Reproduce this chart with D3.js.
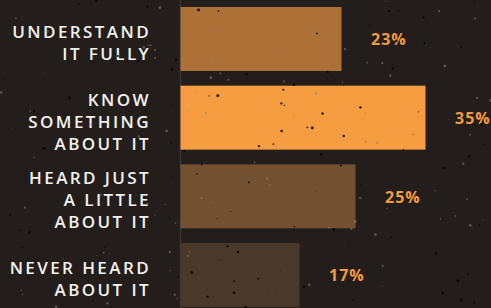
<!DOCTYPE html>
<html>
<head>
<meta charset="utf-8">
<script src="https://cdn.jsdelivr.net/npm/d3@7"></script>
<style>
  html, body { margin: 0; padding: 0; background: #231e1c; }
  svg { display: block; }
</style>
</head>
<body>
<svg class="js-render-chart"></svg>
<script>
"use strict";

//data

const categories = ["understand", "know", "heard", "never"];
const labels = [
  ["UNDERSTAND", "IT FULLY"],
  ["KNOW", "SOMETHING", "ABOUT IT"],
  ["HEARD JUST", "A LITTLE", "ABOUT IT"],
  ["NEVER HEARD", "ABOUT IT"]
];
const values = [23, 35, 25, 17];
const colors = ["#ad7138", "#f59d40", "#73502f", "#4a392b"];

//params

const w = 491;
const h = 308;
const x0 = 180;

const svg = d3.select(".js-render-chart")
  .attr("width", w)
  .attr("height", h);

svg.append("rect")
  .attr("width", w)
  .attr("height", h)
  .attr("fill", "#231e1c");

//speckle texture (decoration only)

const rnd = d3.randomLcg(0.42);
const specks = d3.range(220).map(() => ({
  x: rnd() * w,
  y: rnd() * h,
  r: 0.4 + rnd() * 1.1,
  dark: rnd() < 0.55
}));

//scales

const x = d3.scaleLinear()
  .domain([0, 35])
  .range([x0, 425]);

const y = d3.scaleBand()
  .domain(categories)
  .range([7, 307])
  .paddingInner(0.187)
  .paddingOuter(0);

//axis line

svg.append("line")
  .attr("x1", x0 + 0.5)
  .attr("x2", x0 + 0.5)
  .attr("y1", 0)
  .attr("y2", h)
  .attr("stroke", "#3b3532")
  .attr("stroke-width", 1.5);

//bars

svg.append("g")
  .selectAll("rect")
  .data(values)
  .enter()
  .append("rect")
  .attr("x", x(0) + 0.5)
  .attr("y", (d, i) => y(categories[i]))
  .attr("width", (d) => x(d) - x(0))
  .attr("height", y.bandwidth())
  .attr("fill", (d, i) => colors[i]);

//value labels

svg.append("g")
  .selectAll("text")
  .data(values)
  .enter()
  .append("text")
  .attr("x", (d) => x(d) + 30)
  .attr("y", (d, i) => y(categories[i]) + y.bandwidth() / 2 + 2)
  .attr("dominant-baseline", "middle")
  .attr("fill", "#f39a3b")
  .attr("font-family", "'Open Sans', sans-serif")
  .attr("font-weight", 700)
  .attr("font-size", 16)
  .attr("letter-spacing", 1)
  .text((d) => `${d}%`);

//category labels

const lineH = 22;

svg.append("g")
  .selectAll("text")
  .data(labels)
  .enter()
  .append("text")
  .attr("text-anchor", "end")
  .attr("fill", "#f4f1ee")
  .attr("font-family", "'Open Sans', sans-serif")
  .attr("font-weight", 600)
  .attr("font-size", 17)
  .attr("letter-spacing", 2.4)
  .each(function (d, i) {
    const cy = y(categories[i]) + y.bandwidth() / 2 + 10;
    d3.select(this)
      .selectAll("tspan")
      .data(d)
      .enter()
      .append("tspan")
      .attr("x", 151)
      .attr("y", (t, j) => cy + (j - (d.length - 1) / 2) * lineH)
      .text((t) => t);
  });

//specks on top

svg.append("g")
  .selectAll("circle")
  .data(specks)
  .enter()
  .append("circle")
  .attr("cx", (d) => d.x)
  .attr("cy", (d) => d.y)
  .attr("r", (d) => d.r)
  .attr("fill", (d) => d.dark ? "#0b0908" : "#8a8481")
  .attr("opacity", (d) => d.dark ? 0.9 : 0.5);
</script>
</body>
</html>
